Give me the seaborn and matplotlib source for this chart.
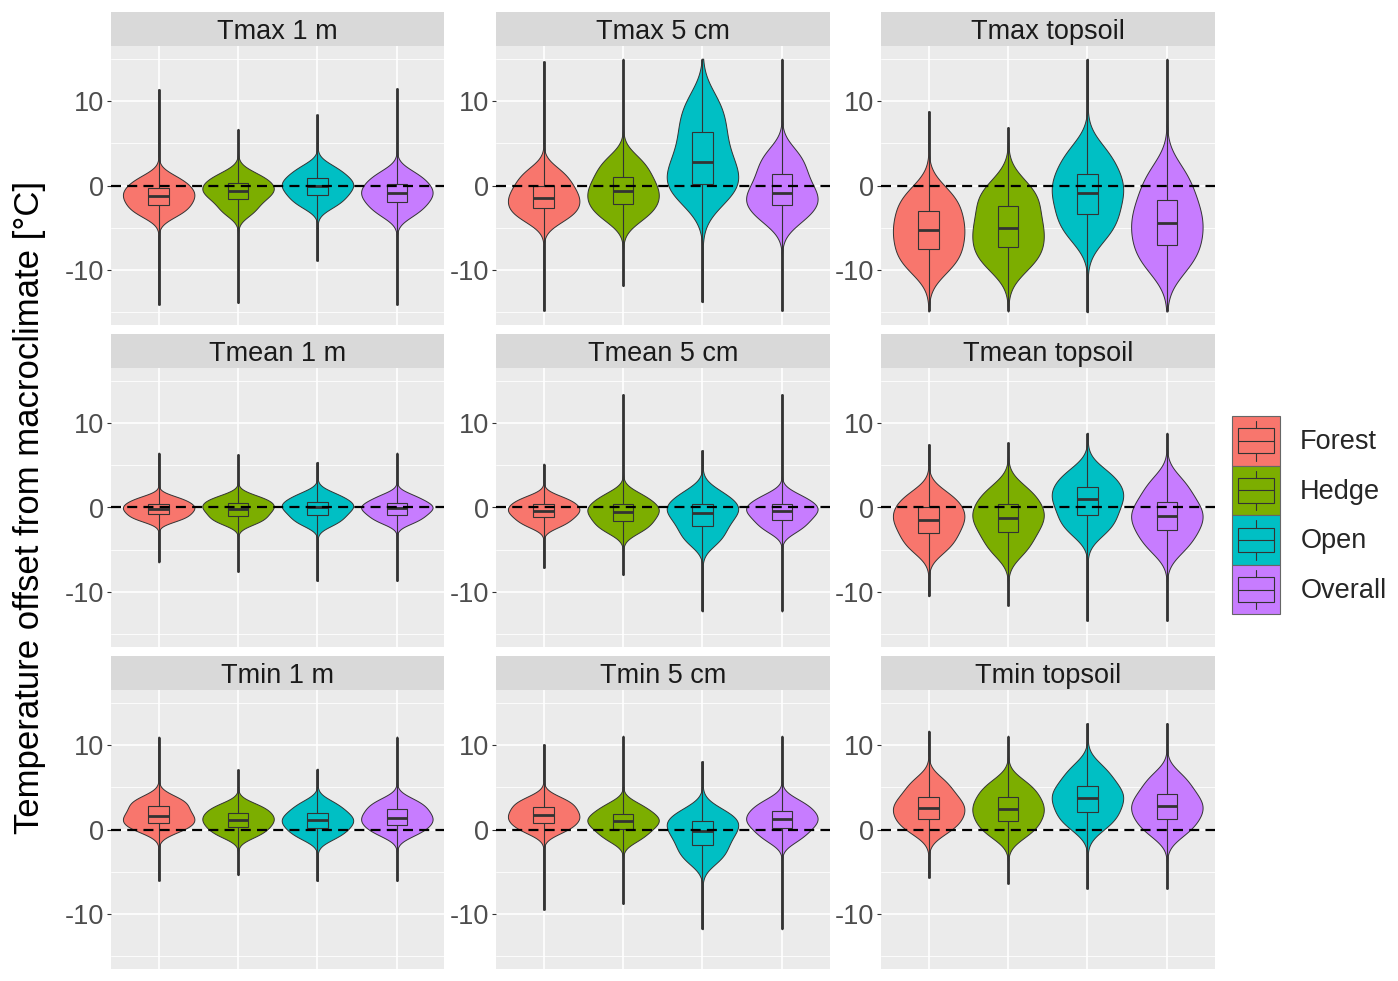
import numpy as np
import pandas as pd
import matplotlib
matplotlib.use("Agg")
import matplotlib.pyplot as plt
from matplotlib.legend_handler import HandlerBase
from matplotlib.patches import Rectangle, Patch
from matplotlib.lines import Line2D
import seaborn as sns

groups = ["Forest", "Hedge", "Open", "Overall"]
colors = ["#F8766D", "#7CAE00", "#00BFC4", "#C77CFF"]
panels = ["Tmax 1 m", "Tmax 5 cm", "Tmax topsoil",
          "Tmean 1 m", "Tmean 5 cm", "Tmean topsoil",
          "Tmin 1 m", "Tmin 5 cm", "Tmin topsoil"]

# offsets in degC, one row per panel, columns Forest / Hedge / Open / Overall
mins = [
    [-14.1, -13.9, -8.9, -14.1],
    [-14.8, -11.9, -13.8, -14.8],
    [-14.9, -14.9, -15.0, -14.9],
    [-6.5, -7.6, -8.7, -8.7],
    [-7.15, -8.0, -12.3, -12.3],
    [-10.5, -11.6, -13.4, -13.4],
    [-6.05, -5.4, -6.1, -6.1],
    [-9.5, -8.8, -11.8, -11.8],
    [-5.7, -6.4, -7.0, -7.0],
]
p10 = [
    [-3.3, -3.0, -2.2, -3.2],
    [-3.8, -3.6, -1.0, -3.8],
    [-9.5, -9.2, -5.6, -9.3],
    [-1.4, -1.7, -1.8, -1.6],
    [-2.0, -2.6, -3.8, -2.5],
    [-4.7, -4.9, -2.6, -4.6],
    [0.0, -0.6, -0.8, -0.4],
    [-0.1, -1.0, -3.4, -1.0],
    [0.0, -0.4, 0.6, -0.2],
]
q1 = [
    [-2.3, -1.6, -1.1, -2.0],
    [-2.7, -2.2, 0.16, -2.3],
    [-7.55, -7.3, -3.36, -7.0],
    [-0.79, -0.95, -0.9, -0.83],
    [-1.15, -1.58, -2.17, -1.42],
    [-3.04, -2.9, -0.9, -2.7],
    [0.75, 0.28, 0.16, 0.51],
    [0.79, 0.08, -1.82, 0.2],
    [1.23, 0.99, 2.09, 1.3],
]
med = [
    [-1.22, -0.6, -0.04, -0.9],
    [-1.42, -0.7, 2.8, -0.83],
    [-5.3, -5.0, -0.83, -4.4],
    [-0.12, -0.12, 0.0, -0.08],
    [-0.36, -0.5, -0.63, -0.4],
    [-1.42, -1.19, 0.95, -1.0],
    [1.62, 1.15, 1.07, 1.38],
    [1.66, 0.99, -0.2, 1.19],
    [2.53, 2.41, 3.72, 2.73],
]
q3 = [
    [-0.24, 0.28, 0.87, 0.16],
    [0.0, 1.0, 6.3, 1.35],
    [-3.04, -2.37, 1.34, -1.74],
    [0.47, 0.55, 0.67, 0.5],
    [0.36, 0.36, 0.4, 0.36],
    [0.0, 0.36, 2.45, 0.67],
    [2.73, 1.98, 1.94, 2.37],
    [2.65, 1.78, 1.03, 2.17],
    [3.83, 3.83, 5.14, 4.19],
]
p90 = [
    [0.8, 1.2, 2.0, 1.3],
    [1.5, 2.8, 9.5, 3.5],
    [-1.0, -0.3, 3.8, 1.2],
    [1.1, 1.2, 1.5, 1.3],
    [1.1, 1.4, 1.6, 1.3],
    [1.4, 2.0, 4.0, 2.8],
    [3.6, 2.8, 3.0, 3.3],
    [3.5, 2.8, 2.0, 3.2],
    [5.5, 5.3, 7.0, 6.0],
]
maxs = [
    [11.4, 6.7, 8.4, 11.5],
    [14.7, 15.0, 15.0, 15.0],
    [8.8, 6.9, 15.0, 15.0],
    [6.5, 6.3, 5.4, 6.5],
    [5.2, 13.4, 6.8, 13.4],
    [7.5, 7.7, 8.85, 8.85],
    [11.0, 7.1, 7.2, 11.0],
    [10.1, 11.1, 8.1, 11.1],
    [11.7, 11.1, 12.6, 12.6],
]
# share of the observations each of p10, q1, median, q3, p90 stands for
mass = [7, 8, 10, 8, 7]

W, H = 1398, 981
palette = dict(zip(groups, colors))
DARK = "#333333"

sns.set_theme(style="darkgrid", rc={
    "axes.facecolor": "#EBEBEB",
    "grid.color": "white",
    "axes.unicode_minus": False,
})
plt.rcParams["font.family"] = ["Liberation Sans", "DejaVu Sans"]


def violin_frame(k):
    frames = []
    for j, g in enumerate(groups):
        core = np.repeat([p10[k][j], q1[k][j], med[k][j], q3[k][j], p90[k][j]],
                         np.array(mass) * 25)
        vals = np.concatenate([[mins[k][j]], core, [maxs[k][j]]])
        frames.append(pd.DataFrame({"group": g, "value": vals}))
    return pd.concat(frames, ignore_index=True)


def box_frame(k):
    frames = []
    for j, g in enumerate(groups):
        vals = [mins[k][j], q1[k][j], med[k][j], q3[k][j], maxs[k][j]]
        frames.append(pd.DataFrame({"group": g, "value": vals}))
    return pd.concat(frames, ignore_index=True)


class ViolinBoxKey(HandlerBase):
    def create_artists(self, legend, orig_handle, xdescent, ydescent,
                       width, height, fontsize, trans):
        x0, y0 = -xdescent, -ydescent
        key = Rectangle((x0, y0), width, height,
                        facecolor=orig_handle.get_facecolor(),
                        edgecolor="#666666", lw=0.8, transform=trans)
        box = Rectangle((x0 + 0.12 * width, y0 + 0.25 * height),
                        0.76 * width, 0.5 * height, facecolor="none",
                        edgecolor=DARK, lw=0.8, transform=trans)
        xm = x0 + 0.5 * width
        parts = [
            Line2D([xm, xm], [y0 + 0.1 * height, y0 + 0.25 * height]),
            Line2D([xm, xm], [y0 + 0.75 * height, y0 + 0.9 * height]),
            Line2D([x0 + 0.12 * width, x0 + 0.88 * width],
                   [y0 + 0.5 * height, y0 + 0.5 * height]),
        ]
        for ln in parts:
            ln.set_color(DARK)
            ln.set_linewidth(0.8)
            ln.set_transform(trans)
        return [key, box] + parts


fig = plt.figure(figsize=(W / 100, H / 100), dpi=100)

col_left = [111, 496, 881]
row_top = [46, 368, 690]
pw, ph, sh = 333.5, 279, 34

for k, name in enumerate(panels):
    r, c = divmod(k, 3)
    left = col_left[c]
    top = row_top[r]
    ax = fig.add_axes([left / W, 1 - (top + ph) / H, pw / W, ph / H])
    sax = fig.add_axes([left / W, 1 - top / H, pw / W, sh / H])
    sax.set_facecolor("#D9D9D9")
    sax.set_xticks([])
    sax.set_yticks([])
    for s in sax.spines.values():
        s.set_visible(False)
    sax.text(0.5, 0.4, name, ha="center", va="center", fontsize=19.5,
             color="#1A1A1A", transform=sax.transAxes)

    vdf = violin_frame(k)
    bdf = box_frame(k)

    # heavier line under the violins, stands for the stacked outlier dots
    n_lines = len(ax.lines)
    n_patch = len(ax.patches)
    sns.boxplot(data=bdf, x="group", y="value", hue="group", order=groups,
                hue_order=groups, palette=palette, width=0.02, whis=(0, 100),
                linewidth=2.0, saturation=1, fill=False,
                showcaps=False, legend=False, ax=ax)
    for art in ax.lines[n_lines:]:
        art.set_color(DARK)
        art.set_zorder(0.9)
    for art in ax.patches[n_patch:]:
        art.set_edgecolor(DARK)
        art.set_zorder(0.9)

    n_coll = len(ax.collections)
    n_patch = len(ax.patches)
    sns.violinplot(data=vdf, x="group", y="value", hue="group", order=groups,
                   hue_order=groups, palette=palette, inner=None, cut=0,
                   density_norm="area", width=0.9, bw_method=0.6,
                   gridsize=300, linewidth=0.7, linecolor=DARK,
                   saturation=1, legend=False, ax=ax)
    for art in ax.collections[n_coll:] + ax.patches[n_patch:]:
        art.set_zorder(1.5)

    sns.boxplot(data=bdf, x="group", y="value", hue="group", order=groups,
                hue_order=groups, palette=palette, width=0.26, whis=(0, 100),
                linewidth=0.8, linecolor=DARK, saturation=1,
                showcaps=False, medianprops={"linewidth": 2.0},
                legend=False, ax=ax)

    ax.axhline(0, color="black", lw=1.6, ls=(0, (4.5, 2.8)), zorder=5)

    ax.set_xlim(-0.6, 3.6)
    ax.set_ylim(-16.5, 16.5)
    ax.set_xticks(range(len(groups)))
    ax.set_yticks([-10, 0, 10])
    ax.set_yticks([-15, -5, 5, 15], minor=True)
    ax.set_yticklabels(["-10", "0", "10"])
    ax.grid(which="major", color="white", lw=1.2)
    ax.grid(which="minor", axis="y", color="white", lw=0.6)
    ax.set_axisbelow(True)
    ax.tick_params(axis="x", which="both", bottom=False, labelbottom=False)
    ax.tick_params(axis="y", which="major", left=True, length=3, width=0.8,
                   color=DARK, labelcolor="#4D4D4D", labelsize=19.5,
                   pad=2)
    ax.tick_params(axis="y", which="minor", left=False)
    ax.set_xlabel("")
    ax.set_ylabel("")
    for s in ax.spines.values():
        s.set_visible(False)

fig.text(0.021, 0.483, "Temperature offset from macroclimate [°C]",
         rotation=90, ha="center", va="center", fontsize=25, color="black")

handles = [Patch(facecolor=col) for col in colors]
fig.legend(handles, groups, handler_map={Patch: ViolinBoxKey()},
           loc="upper left", bbox_to_anchor=(1232 / W, 1 - 416 / H),
           frameon=False, borderpad=0, borderaxespad=0, labelspacing=0,
           handlelength=1.78, handleheight=2.44, handletextpad=0.74,
           fontsize=19.5)

fig.savefig("out.png", dpi=100)
